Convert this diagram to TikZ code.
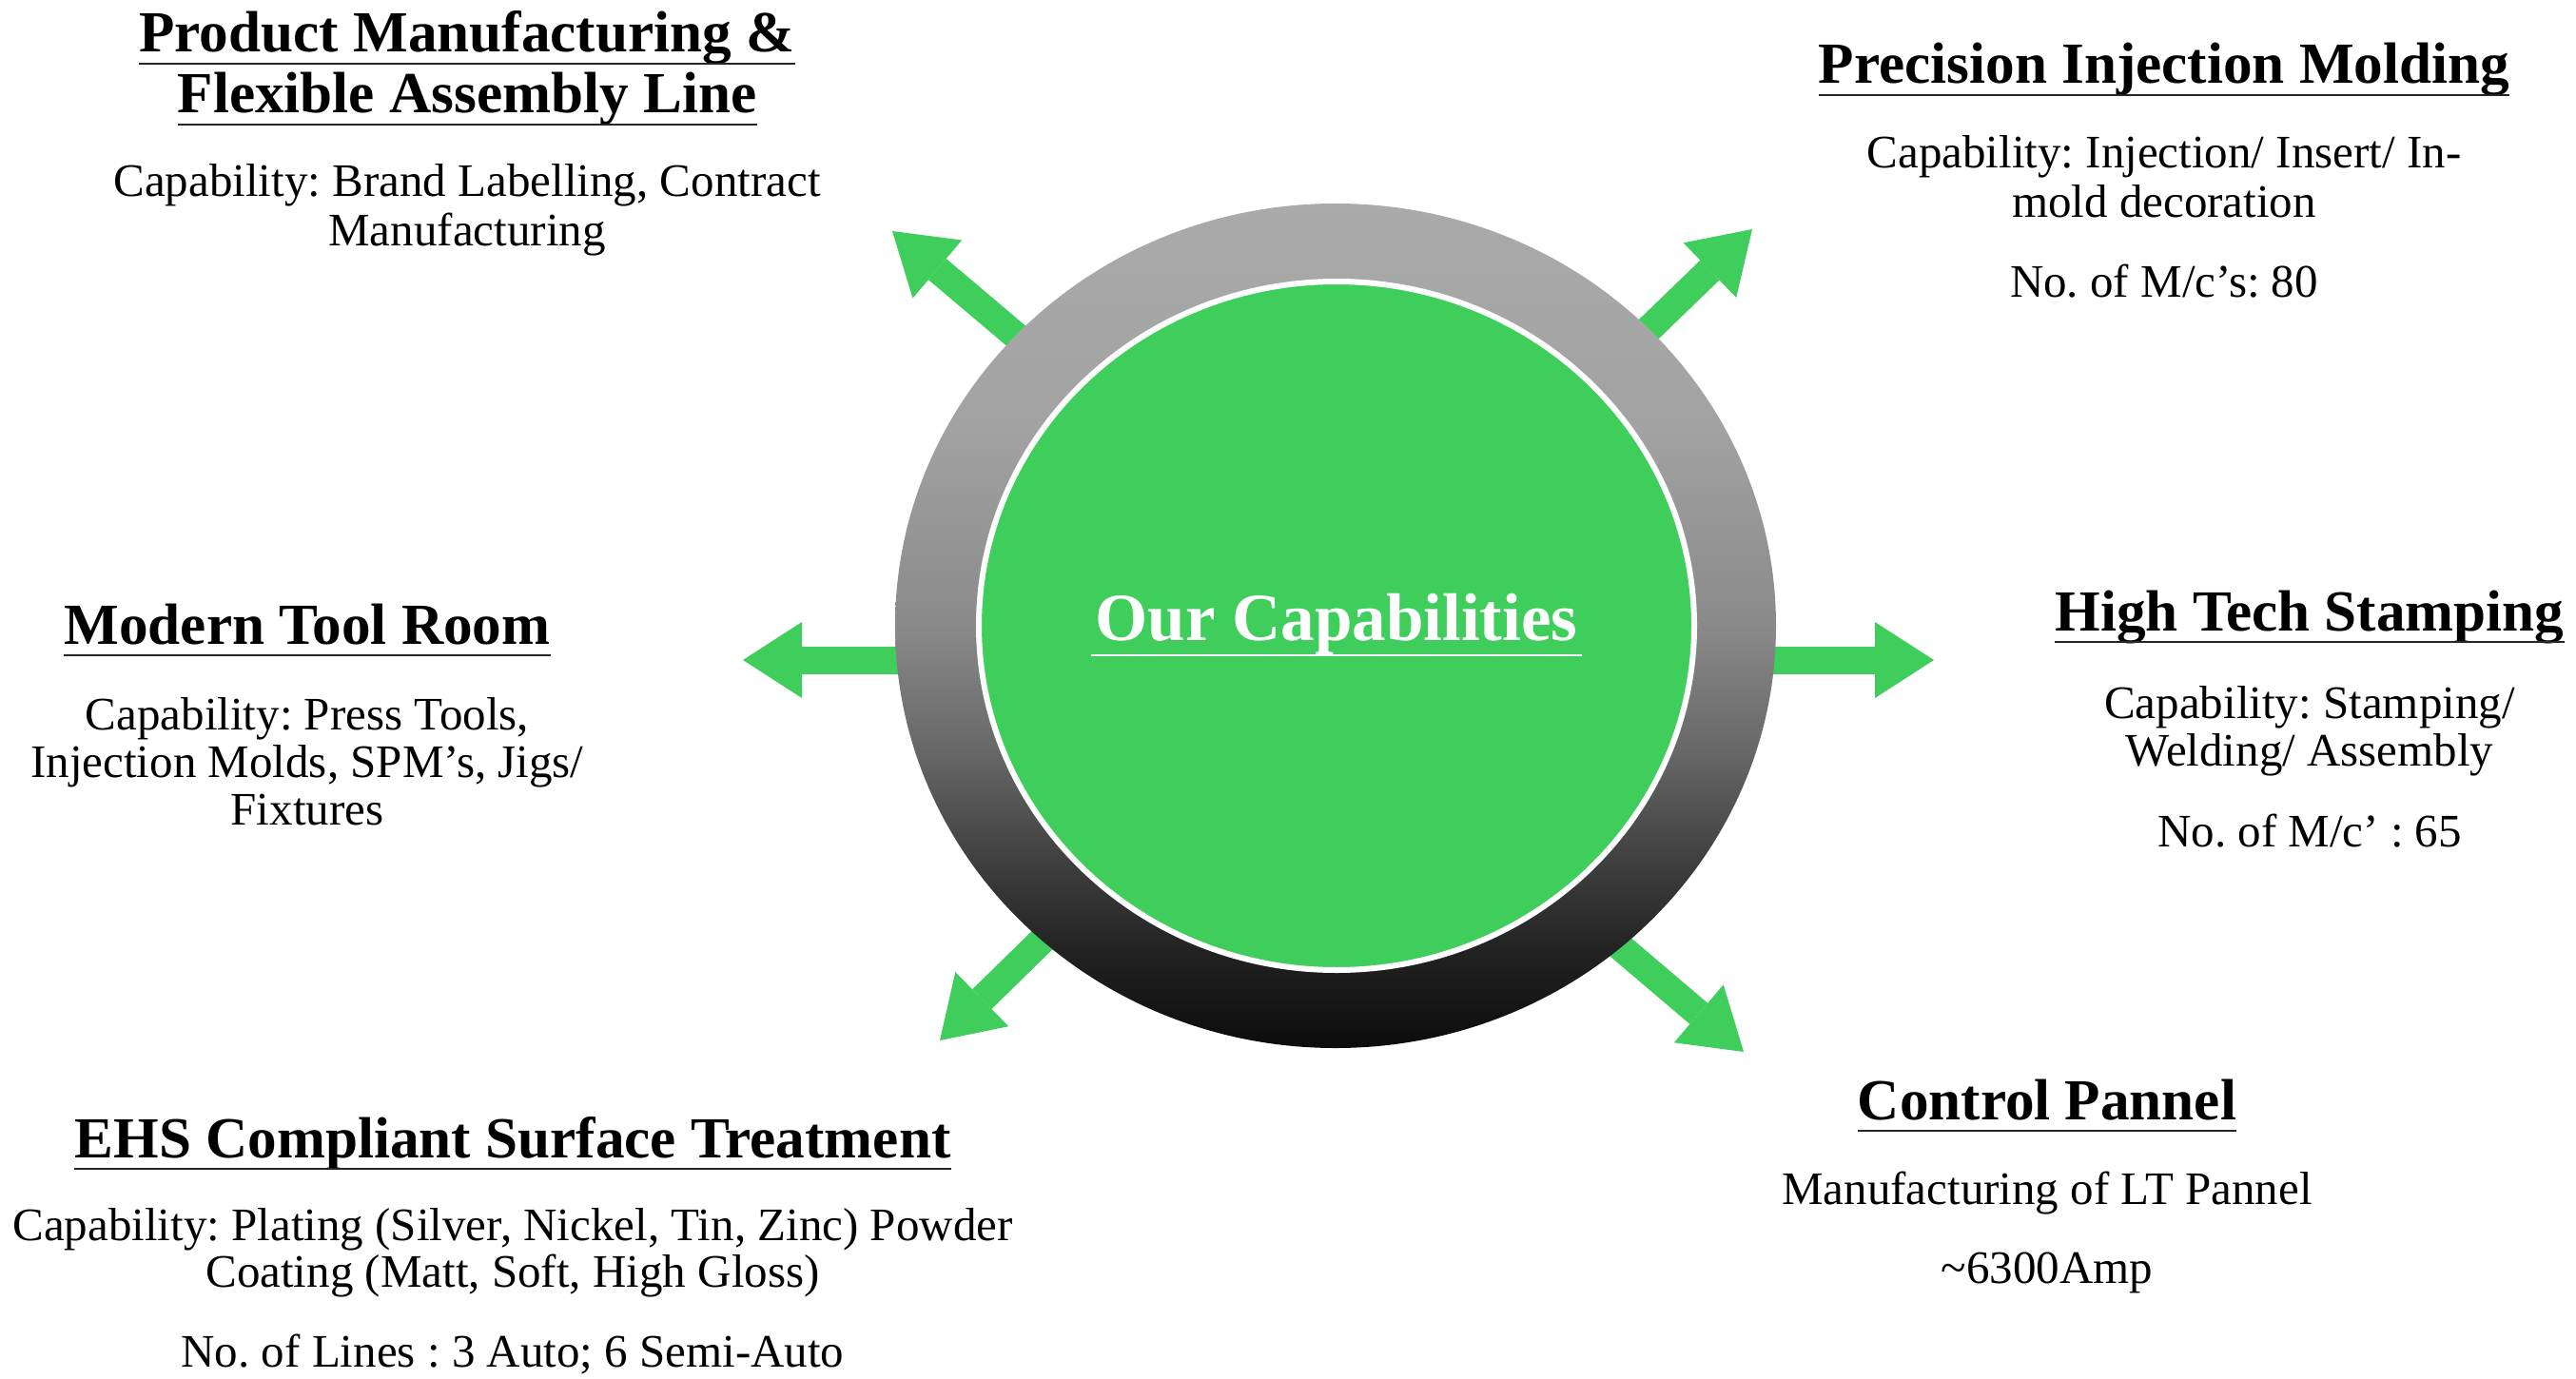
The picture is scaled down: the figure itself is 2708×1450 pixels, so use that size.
\documentclass[tikz,border=0pt]{standalone}
\usepackage{fontspec}
\setmainfont{Liberation Serif}
\usetikzlibrary{arrows.meta,shapes.geometric}
\definecolor{capgreen}{RGB}{63,206,92}
\definecolor{rA}{RGB}{12,12,12}
\definecolor{rB}{RGB}{34,34,34}
\definecolor{rC}{RGB}{62,62,62}
\definecolor{rD}{RGB}{102,102,102}
\definecolor{rE}{RGB}{138,138,138}
\definecolor{rF}{RGB}{162,162,162}
\definecolor{rG}{RGB}{170,170,170}
\pgfdeclareverticalshading{ringshade}{100bp}{color(0bp)=(rA); color(25bp)=(rA); color(30.74bp)=(rB); color(35.87bp)=(rC); color(42.34bp)=(rD); color(50.11bp)=(rE); color(61.71bp)=(rF); color(75bp)=(rG); color(100bp)=(rG)}
\newcommand\ulnode[1]{\draw[ul] ([yshift=-12pt]#1.base west) -- ([yshift=-12pt]#1.base east);}
\frenchspacing
\begin{document}
\begin{tikzpicture}[x=1pt,y=-1pt,
  ttl/.style={font=\fontsize{61.2}{72}\selectfont\bfseries, anchor=base, inner sep=0pt},
  bdy/.style={font=\fontsize{49}{59}\selectfont, anchor=base, inner sep=0pt},
  ul/.style={line width=2.5pt, draw=black!85},
  bigarrow/.style={draw=capgreen, line width=29pt, -{Triangle[length=62pt,width=80pt,line width=0pt]}}]
\useasboundingbox (0,0) rectangle (2708,1450);
% arrow coordinates
\coordinate (tUL) at (1107,386); \coordinate (hUL) at (938,243);
\coordinate (tUR) at (1692,386); \coordinate (hUR) at (1842,241);
\coordinate (tL) at (985,694);   \coordinate (hL) at (781,694);
\coordinate (tR) at (1823,694);  \coordinate (hR) at (2033,694);
\coordinate (tLL) at (1134,951); \coordinate (hLL) at (988,1094);
\coordinate (tLR) at (1665,963); \coordinate (hLR) at (1833,1106);
\draw[bigarrow] (tUL) -- (hUL);
\draw[bigarrow] (tUR) -- (hUR);
\draw[bigarrow] (tL) -- (hL);
\draw[bigarrow] (tR) -- (hR);
\draw[bigarrow] (tLL) -- (hLL);
\draw[bigarrow] (tLR) -- (hLR);
% ring and core
\node[ellipse, minimum width=926pt, minimum height=888pt, inner sep=0pt, shading=ringshade] (ring) at (1404,658) {};
\node[ellipse, minimum width=752pt, minimum height=724pt, inner sep=0pt, fill=capgreen, draw=white, line width=6pt] (core) at (1405,658) {};
\node[font=\fontsize{71}{85}\selectfont\bfseries, text=white, anchor=base, inner sep=0pt] (ourcap) at (1405,673) {Our Capabilities};
\draw[white, line width=2.5pt] ([yshift=-16pt,xshift=-4pt]ourcap.base west) -- ([yshift=-16pt,xshift=4pt]ourcap.base east);
% Product Manufacturing
\node[ttl] (pm1) at (491,55) {Product Manufacturing \&}; \ulnode{pm1}
\node[ttl] (pm2) at (491,119) {Flexible Assembly Line}; \ulnode{pm2}
\node[bdy] (pmb1) at (491,207) {Capability: Brand Labelling, Contract};
\node[bdy] (pmb2) at (491,258) {Manufacturing};
% Precision Injection Molding
\node[ttl] (pim) at (2275,88) {Precision Injection Molding}; \ulnode{pim}
\node[bdy] (pimb1) at (2275,177) {Capability: Injection/ Insert/ In-};
\node[bdy] (pimb2) at (2275,228) {mold decoration};
\node[bdy] (pimb3) at (2275,312) {No. of M/c’s: 80};
% High Tech Stamping
\node[ttl] (hts) at (2428,663) {High Tech Stamping}; \ulnode{hts}
\node[bdy] (htsb1) at (2428,755) {Capability: Stamping/};
\node[bdy] (htsb2) at (2428,805) {Welding/ Assembly};
\node[bdy] (htsb3) at (2428,890) {No. of M/c’ : 65};
% Modern Tool Room
\node[ttl] (mtr) at (323,677) {Modern Tool Room}; \ulnode{mtr}
\node[bdy] (mtrb1) at (323,767) {Capability: Press Tools,};
\node[bdy] (mtrb2) at (323,817) {Injection Molds, SPM’s, Jigs/};
\node[bdy] (mtrb3) at (323,867) {Fixtures};
% Control Pannel
\node[ttl] (cp) at (2152,1177) {Control Pannel}; \ulnode{cp}
\node[bdy] (cpb1) at (2152,1266) {Manufacturing of LT Pannel};
\node[bdy] (cpb2) at (2152,1349) {\textasciitilde6300Amp};
% EHS
\node[ttl] (ehs) at (539,1217) {EHS Compliant Surface Treatment}; \ulnode{ehs}
\node[bdy] (ehsb1) at (539,1304) {Capability: Plating (Silver, Nickel, Tin, Zinc) Powder};
\node[bdy] (ehsb2) at (539,1353) {Coating (Matt, Soft, High Gloss)};
\node[bdy] (ehsb3) at (539,1437) {No. of Lines : 3 Auto; 6 Semi-Auto};
\end{tikzpicture}
\end{document}
